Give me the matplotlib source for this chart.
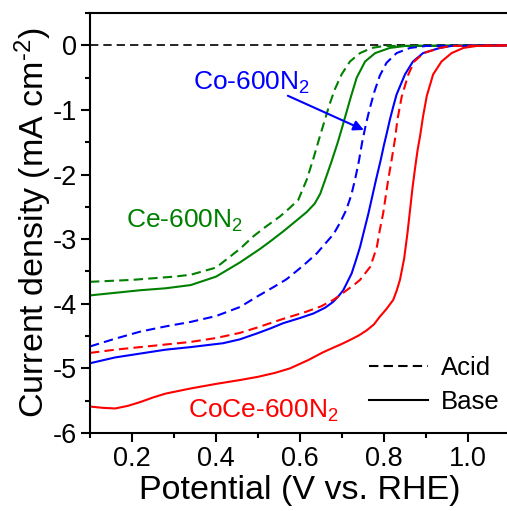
import matplotlib
matplotlib.use("Agg")
import matplotlib.pyplot as plt
from matplotlib.lines import Line2D
from matplotlib.ticker import MultipleLocator

plt.rcParams['font.family'] = ['Liberation Sans', 'DejaVu Sans']
plt.rcParams['mathtext.default'] = 'regular'
plt.rcParams['axes.unicode_minus'] = False

# LSV data: potential (V vs. RHE), current density (mA cm-2)
ce_acid_v = [0.10, 0.20, 0.30, 0.34, 0.40, 0.457, 0.49, 0.52, 0.552, 0.575, 0.596, 0.616, 0.632, 0.645,
             0.658, 0.670, 0.683, 0.699, 0.719, 0.743, 0.771, 0.80, 1.10]
ce_acid_j = [-3.66, -3.63, -3.58, -3.55, -3.44, -3.15, -2.95, -2.80, -2.65, -2.52, -2.39, -2.08, -1.75, -1.46,
             -1.18, -0.92, -0.68, -0.45, -0.25, -0.12, -0.04, -0.01, 0.0]

ce_base_v = [0.10, 0.16, 0.22, 0.28, 0.34, 0.40, 0.457, 0.505, 0.53, 0.56, 0.59, 0.616, 0.635, 0.648, 0.660,
             0.675, 0.690, 0.700, 0.710, 0.721, 0.735, 0.755, 0.779, 0.814, 0.85, 1.10]
ce_base_j = [-3.87, -3.83, -3.79, -3.76, -3.71, -3.58, -3.36, -3.15, -3.03, -2.88, -2.72, -2.58, -2.45, -2.30, -2.08,
             -1.80, -1.50, -1.28, -1.05, -0.80, -0.50, -0.25, -0.12, -0.04, -0.01, 0.0]

co_acid_v = [0.10, 0.16, 0.22, 0.28, 0.34, 0.40, 0.457, 0.50, 0.54, 0.568, 0.60, 0.616, 0.64, 0.664, 0.68,
             0.695, 0.71, 0.722, 0.731, 0.740, 0.748, 0.757, 0.766, 0.777, 0.79, 0.806, 0.83, 0.862, 0.90, 1.10]
co_acid_j = [-4.66, -4.54, -4.43, -4.35, -4.28, -4.19, -4.05, -3.88, -3.73, -3.62, -3.45, -3.36, -3.22, -3.04, -2.92,
             -2.75, -2.55, -2.32, -2.08, -1.80, -1.50, -1.22, -0.98, -0.72, -0.47, -0.27, -0.12, -0.04, -0.01, 0.0]

co_base_v = [0.10, 0.16, 0.22, 0.28, 0.34, 0.417, 0.457, 0.497, 0.53, 0.56, 0.60, 0.632, 0.66, 0.679, 0.692,
             0.703, 0.713, 0.723, 0.733, 0.743, 0.753, 0.763, 0.772, 0.781, 0.792, 0.80, 0.807, 0.814, 0.822,
             0.830, 0.85, 0.869, 0.893, 0.933, 0.96, 1.10]
co_base_j = [-4.92, -4.83, -4.77, -4.71, -4.67, -4.61, -4.55, -4.46, -4.38, -4.30, -4.22, -4.15, -4.06, -3.97, -3.88,
             -3.79, -3.66, -3.53, -3.33, -3.12, -2.86, -2.60, -2.34, -2.08, -1.78, -1.54, -1.35, -1.15, -0.95,
             -0.76, -0.45, -0.25, -0.12, -0.04, -0.01, 0.0]

coce_acid_v = [0.10, 0.16, 0.22, 0.28, 0.34, 0.40, 0.457, 0.497, 0.552, 0.616, 0.65, 0.679, 0.695, 0.711, 0.728,
               0.743, 0.755, 0.767, 0.775, 0.783, 0.790, 0.798, 0.804, 0.810, 0.818, 0.826, 0.832, 0.842, 0.858,
               0.872, 0.895, 0.933, 0.96, 1.10]
coce_acid_j = [-4.76, -4.71, -4.67, -4.63, -4.59, -4.53, -4.45, -4.37, -4.25, -4.12, -4.04, -3.94, -3.87, -3.79, -3.71,
               -3.63, -3.53, -3.43, -3.28, -3.12, -2.86, -2.60, -2.34, -2.08, -1.78, -1.46, -1.15, -0.80, -0.45,
               -0.25, -0.12, -0.04, -0.01, 0.0]

coce_base_v = [0.10, 0.13, 0.16, 0.19, 0.22, 0.25, 0.28, 0.34, 0.40, 0.457, 0.50, 0.54, 0.576, 0.62, 0.655, 0.679,
               0.70, 0.719, 0.74, 0.759, 0.776, 0.790, 0.806, 0.815, 0.822, 0.830, 0.838, 0.848, 0.856, 0.862,
               0.868, 0.874, 0.880, 0.886, 0.893, 0.902, 0.917, 0.937, 0.961, 0.989, 1.02, 1.10]
coce_base_j = [-5.59, -5.61, -5.62, -5.58, -5.52, -5.45, -5.39, -5.31, -5.24, -5.18, -5.13, -5.07, -5.00, -4.87, -4.75,
               -4.68, -4.62, -4.56, -4.49, -4.41, -4.32, -4.20, -4.08, -4.00, -3.94, -3.80, -3.63, -3.30, -2.90,
               -2.55, -2.20, -1.90, -1.62, -1.40, -1.10, -0.78, -0.45, -0.25, -0.12, -0.04, -0.01, 0.0]

green = '#008000'
blue = '#0000ff'
red = '#ff0000'
dash = (0, (4.5, 2.5))

fig = plt.figure(figsize=(5.07, 5.11), dpi=100)
ax = fig.add_axes([0.1775, 0.1526, 0.8284, 0.8219])

ax.axhline(0, color='black', lw=1.2, ls=(0, (5, 3)), zorder=1)

ax.plot(ce_acid_v, ce_acid_j, color=green, lw=1.5, ls=dash)
ax.plot(ce_base_v, ce_base_j, color=green, lw=1.5)
ax.plot(co_acid_v, co_acid_j, color=blue, lw=1.5, ls=dash)
ax.plot(co_base_v, co_base_j, color=blue, lw=1.5)
ax.plot(coce_acid_v, coce_acid_j, color=red, lw=1.5, ls=dash)
ax.plot(coce_base_v, coce_base_j, color=red, lw=1.5)

ax.text(0.345, -0.69, 'Co-600N$_2$', color=blue, fontsize=19, va='baseline')
ax.text(0.186, -2.83, 'Ce-600N$_2$', color=green, fontsize=19, va='baseline')
ax.text(0.333, -5.77, 'CoCe-600N$_2$', color=red, fontsize=19, va='baseline')
ax.annotate('', xy=(0.752, -1.31), xytext=(0.571, -0.78),
            arrowprops=dict(arrowstyle='-|>', color=blue, lw=1.5,
                            mutation_scale=15, shrinkA=0, shrinkB=0))

handles = [Line2D([], [], color='black', lw=1.5, ls=dash),
           Line2D([], [], color='black', lw=1.5)]
ax.legend(handles, ['Acid', 'Base'], loc='lower right', bbox_to_anchor=(0.975, 0.045),
          frameon=False, fontsize=18.5, handlelength=2.3, handletextpad=0.5,
          labelspacing=0.4, borderpad=0, borderaxespad=0)

ax.set_xlim(0.1, 1.1)
ax.set_ylim(-6, 0.5)
ax.xaxis.set_minor_locator(MultipleLocator(0.1))
ax.yaxis.set_minor_locator(MultipleLocator(0.5))
ax.set_xticks([0.2, 0.4, 0.6, 0.8, 1.0])
ax.set_xticklabels(['0.2', '0.4', '0.6', '0.8', '1.0'])
ax.set_yticks([0, -1, -2, -3, -4, -5, -6])
ax.set_yticklabels(['0', '-1', '-2', '-3', '-4', '-5', '-6'])

ax.tick_params(which='major', length=6.5, width=1.5, labelsize=19.5, pad=3, direction='out')
ax.tick_params(which='minor', length=3.5, width=1.5, direction='out')
ax.tick_params(top=False, right=False, which='both')
for s in ['left', 'bottom', 'top']:
    ax.spines[s].set_linewidth(1.5)
ax.spines['right'].set_visible(False)

ax.set_xlabel('Potential (V vs. RHE)', fontsize=24.5, labelpad=2)
ax.set_ylabel('Current density (mA cm$^{\u2010 2}$)', fontsize=24.5, labelpad=-1)

plt.savefig('out.png', dpi=100)
